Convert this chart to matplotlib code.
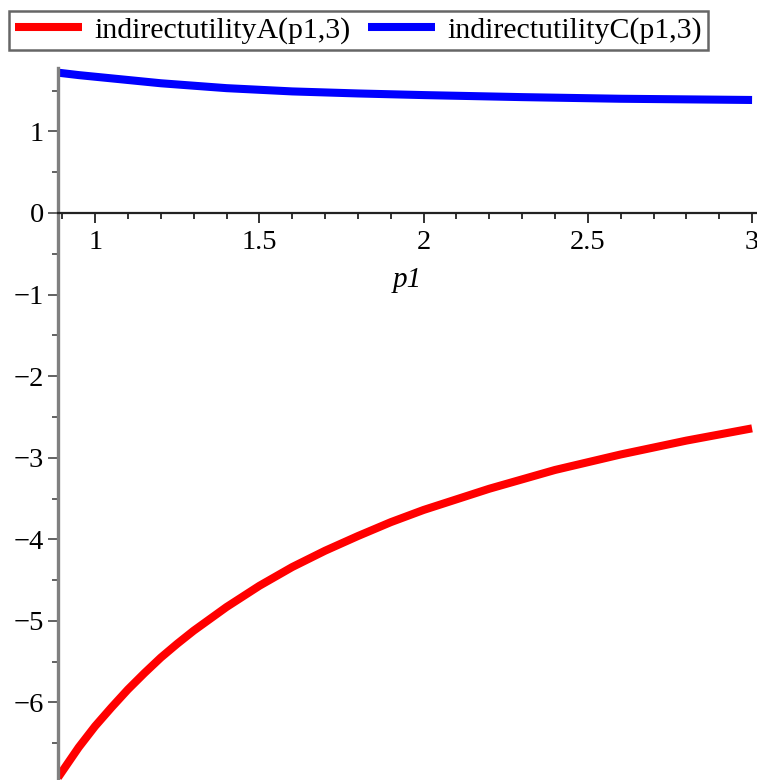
import matplotlib
matplotlib.use("Agg")
import matplotlib.pyplot as plt
from matplotlib.ticker import MultipleLocator, FixedLocator

# Data
p1_red = [0.887, 0.95, 1.0, 1.05, 1.1, 1.15, 1.2, 1.25, 1.3, 1.4, 1.5, 1.6, 1.7, 1.8,
          1.9, 2.0, 2.2, 2.4, 2.6, 2.8, 3.0]
utilA = [-6.92, -6.55, -6.29, -6.06, -5.84, -5.64, -5.45, -5.28, -5.12, -4.83, -4.57,
         -4.34, -4.14, -3.96, -3.79, -3.64, -3.38, -3.15, -2.96, -2.79, -2.64]
p1_blue = [0.887, 0.95, 1.0, 1.1, 1.2, 1.3, 1.4, 1.5, 1.6, 1.8, 2.0, 2.3, 2.6, 3.0]
utilC = [1.72, 1.69, 1.67, 1.63, 1.59, 1.56, 1.53, 1.51, 1.49, 1.465, 1.445, 1.42, 1.40, 1.385]

x_ticks = [1, 1.5, 2, 2.5, 3]
x_tick_labels = ["1", "1.5", "2", "2.5", "3"]
y_ticks = [-6, -5, -4, -3, -2, -1, 0, 1]
y_tick_labels = ["\u22126", "\u22125", "\u22124", "\u22123", "\u22122", "\u22121", "0", "1"]
series_labels = ["indirectutilityA(p1,3)", "indirectutilityC(p1,3)"]

plt.rcParams['font.family'] = ['Liberation Serif', 'DejaVu Serif']

W, H = 757, 780
fig = plt.figure(figsize=(W / 100, H / 100), dpi=100)
ax = fig.add_axes([58 / W, 0, (W - 58) / W, (780 - 68) / H])

l1, = ax.plot(p1_red, utilA, color='#ff0000', lw=5.8, solid_capstyle='butt',
              solid_joinstyle='round', label=series_labels[0])
l2, = ax.plot(p1_blue, utilC, color='#0000ff', lw=5.8, solid_capstyle='butt',
              solid_joinstyle='round', label=series_labels[1])

ax.set_xlim(0.887, 3.015)
ax.set_ylim(-6.95, 1.777)

for s in ['top', 'right']:
    ax.spines[s].set_visible(False)
ax.spines['bottom'].set_position(('data', 0))
ax.spines['bottom'].set_color('#222222')
ax.spines['bottom'].set_linewidth(1.6)
ax.spines['left'].set_color('#808080')
ax.spines['left'].set_linewidth(2.4)

ax.xaxis.set_major_locator(FixedLocator(x_ticks))
ax.set_xticklabels(x_tick_labels)
ax.xaxis.set_minor_locator(MultipleLocator(0.1))
ax.yaxis.set_major_locator(FixedLocator(y_ticks))
ax.set_yticklabels(y_tick_labels)
ax.yaxis.set_minor_locator(MultipleLocator(0.5))

ax.tick_params(axis='x', which='major', direction='out', length=7, width=1.3, color='#222222',
               labelsize=20.5, pad=5)
ax.tick_params(axis='x', which='minor', direction='out', length=4, width=1.3, color='#222222')
ax.tick_params(axis='y', which='major', direction='out', length=7, width=1.3, color='#555555',
               labelsize=20.5, pad=3)
ax.tick_params(axis='y', which='minor', direction='out', length=4, width=1.3, color='#555555')

ax.text(1.95, -0.82, "p1", fontsize=21, style='italic', ha='center', va='center')

leg = fig.legend(handles=[l1, l2], labels=series_labels, loc='upper left',
                 bbox_to_anchor=(9 / W, 1 - 11 / H), ncol=2, fontsize=21.5,
                 frameon=True, fancybox=False, edgecolor='#666666', framealpha=1,
                 handlelength=2.25, handletextpad=0.4, columnspacing=0.6,
                 borderpad=0.2, borderaxespad=0)
leg.get_frame().set_linewidth(1.8)

fig.savefig("out.png", dpi=100)
